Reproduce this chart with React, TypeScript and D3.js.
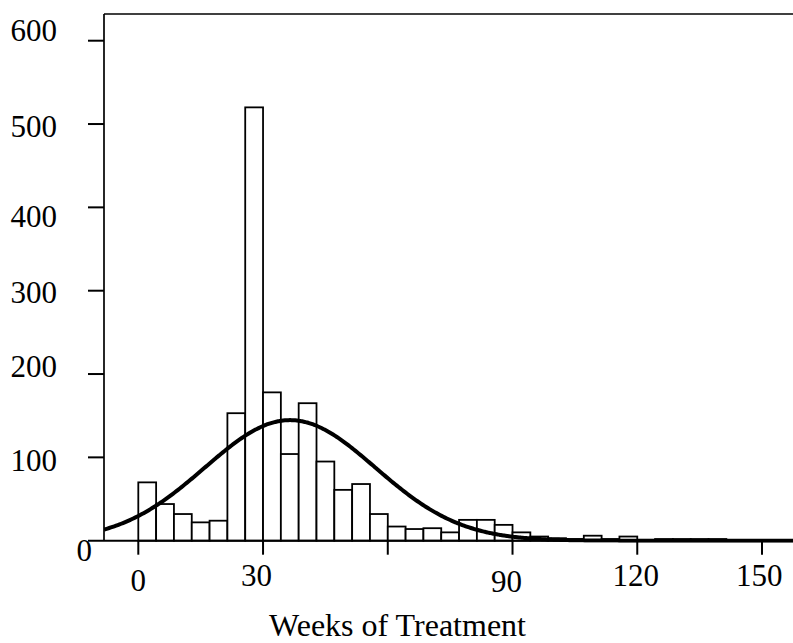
import React from "react";
import * as d3 from "d3";

// Histogram: counts per bin, bins of width 30/7 weeks starting at week 0
const binWidth = 30 / 7;
const counts = [
  70, 44, 32, 22, 24, 153, 520, 178, 104, 165, 95, 61, 68, 32, 17, 14, 15, 10,
  25, 25, 19, 10, 5, 3, 2, 6, 2, 5, 1, 2, 2, 2, 2,
];
// Fitted normal curve parameters
const fitMean = 36.5;
const fitSd = 20.5;

const xTicks = [0, 30, 60, 90, 120, 150];
const xTickLabels = ["0", "30", "", "90", "120", "150"];
const yTicks = [0, 100, 200, 300, 400, 500, 600];
const yTickLabels = ["0", "100", "200", "300", "400", "500", "600"];
const xTitle = "Weeks of Treatment";

// label layout tweaks (px), parallel to tick arrays
const xLabelDx = [0, -6.5, 0, -6, -1.5, -2.7];
const xLabelBase = [591, 585.5, 0, 591.5, 585.5, 585.5];
const yLabelDy = [20, 14, 3, 12, 20, 13, 0];

export default function App() {
  const W = 793;
  const H = 643;
  const left = 104;
  const right = 793;
  const top = 14;
  const x = d3.scaleLinear().domain([0, 150]).range([138.3, 762]);
  const y = d3.scaleLinear().domain([0, 600]).range([540.7, 40.7]);
  const base = y(0);
  const font = "'Liberation Serif', 'Times New Roman', serif";
  const fs = 31;

  const N = d3.sum(counts);
  const dens = (v: number) =>
    ((N * binWidth) / (fitSd * Math.sqrt(2 * Math.PI))) *
    Math.exp(-((v - fitMean) ** 2) / (2 * fitSd * fitSd));
  const v0 = x.invert(left);
  const v1 = x.invert(right);
  const pts = d3.range(0, 401).map((i) => v0 + ((v1 - v0) * i) / 400);
  const line = d3
    .line<number>()
    .x((v) => x(v))
    .y((v) => y(dens(v)))
    .curve(d3.curveBasis);

  return (
    <svg
      width={W}
      height={H}
      style={{ position: "absolute", left: 0, top: 0, background: "#fff" }}
    >
      <defs>
        <clipPath id="plot">
          <rect x={left} y={top} width={right - left} height={base - top + 2} />
        </clipPath>
      </defs>
      {/* bars */}
      <g>
        {counts.map((c, i) => (
          <rect
            key={i}
            x={x(i * binWidth)}
            y={y(c)}
            width={x((i + 1) * binWidth) - x(i * binWidth)}
            height={base - y(c)}
            fill="#fff"
            stroke="#000"
            strokeWidth={1.8}
          />
        ))}
      </g>
      {/* fitted curve */}
      <path
        d={line(pts) || ""}
        fill="none"
        stroke="#000"
        strokeWidth={4}
        clipPath="url(#plot)"
      />
      {/* frame */}
      <line x1={left} x2={left} y1={top} y2={base} stroke="#000" strokeWidth={1.7} />
      <line x1={left} x2={right} y1={top} y2={top} stroke="#000" strokeWidth={1.7} />
      <line x1={88} x2={right} y1={base} y2={base} stroke="#000" strokeWidth={2} />
      {/* y ticks */}
      {yTicks.map((t) =>
        t === 0 ? null : (
          <line key={t} x1={88} x2={left} y1={y(t)} y2={y(t)} stroke="#000" strokeWidth={2} />
        )
      )}
      {yTicks.map((t, i) => (
        <text
          key={"yl" + t}
          x={t === 0 ? 92 : 57}
          y={y(t) + yLabelDy[i]}
          textAnchor="end"
          fontFamily={font}
          fontSize={fs}
          fill="#000"
        >
          {yTickLabels[i]}
        </text>
      ))}
      {/* x ticks */}
      {xTicks.map((t) => (
        <line key={"xt" + t} x1={x(t)} x2={x(t)} y1={base} y2={base + 14} stroke="#000" strokeWidth={2} />
      ))}
      {xTicks.map((t, i) =>
        xTickLabels[i] ? (
          <text
            key={"xl" + t}
            x={x(t) + xLabelDx[i]}
            y={xLabelBase[i]}
            textAnchor="middle"
            fontFamily={font}
            fontSize={fs}
            fill="#000"
          >
            {xTickLabels[i]}
          </text>
        ) : null
      )}
      <text
        x={397.5}
        y={636}
        textAnchor="middle"
        fontFamily={font}
        fontSize={32}
        fill="#000"
      >
        {xTitle}
      </text>
    </svg>
  );
}
